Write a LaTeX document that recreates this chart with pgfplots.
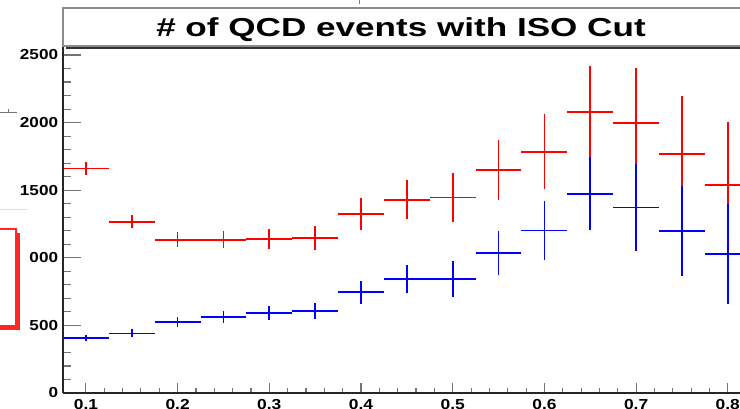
\documentclass[border=0pt]{standalone}
\usepackage{pgfplots}
\usepackage{pgfplotstable}
\pgfplotsset{compat=1.18}
\usepackage{fontspec}
\setmainfont{Liberation Sans}

% bin centre, half bin width, content, statistical error
\pgfplotstableread{
x    ex     y     e
0.10 0.025 1660  45
0.15 0.025 1265  48
0.20 0.025 1134  54
0.25 0.025 1134  64
0.30 0.025 1141  75
0.35 0.025 1146  90
0.40 0.025 1324 120
0.45 0.025 1430 142
0.50 0.025 1447 181
0.55 0.025 1649 222
0.60 0.025 1785 279
0.65 0.025 2078 340
0.70 0.025 1995 412
0.75 0.025 1770 427
0.80 0.025 1538 468
}\noisotable

\pgfplotstableread{
x    ex     y     e
0.10 0.025  407  22
0.15 0.025  441  30
0.20 0.025  523  37
0.25 0.025  562  43
0.30 0.025  594  53
0.35 0.025  606  60
0.40 0.025  745  86
0.45 0.025  843 105
0.50 0.025  843 131
0.55 0.025 1035 163
0.60 0.025 1203 216
0.65 0.025 1474 271
0.70 0.025 1371 322
0.75 0.025 1200 333
0.80 0.025 1028 369
}\isotable

\definecolor{rootred}{RGB}{255,0,0}
\definecolor{rootblue}{RGB}{0,0,255}

\pgfplotsset{
  histframe/.style={
    scale only axis,
    width=733.6pt, height=346.1pt,
    at={(63pt,16pt)}, anchor=south west,
    xmin=0.075, xmax=0.875, ymin=0, ymax=2560,
    axis line style={black!85, line width=1.4pt},
    tick style={black!55, line width=1.1pt},
    tick align=inside,
    /pgf/number format/assume math mode=true,
  },
  histerr/.style={
    color=#1, draw=#1, only marks,
    mark=*, mark size=0pt, mark options={draw=none, fill=none},
    error bars/.cd,
      x dir=both, x explicit, y dir=both, y explicit,
      error mark=none,
      error bar style={draw=#1, color=#1, line width=1.7pt},
  },
}

\begin{document}
\begin{tikzpicture}
% y ticks and the data
\begin{axis}[histframe,
  axis x line*=bottom, axis y line*=left,
  xtick=\empty,
  ytick={0,500,1000,1500,2000,2500},
  yticklabels={0,500,000,1500,2000,2500},
  minor y tick num=4,
  major tick length=18pt, minor tick length=8pt,
  ytick pos=left,
  yticklabel style={font=\fontsize{14.5}{14.5}\selectfont\bfseries, xscale=1.18, inner sep=0pt, xshift=-4pt},
]
\addplot[histerr=rootred]
  table[x=x, y=y, x error=ex, y error=e] {\noisotable};
\addplot[histerr=rootblue]
  table[x=x, y=y, x error=ex, y error=e] {\isotable};
\end{axis}

% x ticks
\begin{axis}[histframe,
  axis x line*=bottom, axis y line*=left,
  ytick=\empty,
  xtick={0.1,0.2,0.3,0.4,0.5,0.6,0.7,0.8},
  xticklabels={0.1,0.2,0.3,0.4,0.5,0.6,0.7,0.8},
  minor x tick num=4,
  major tick length=10pt, minor tick length=5pt,
  xtick pos=bottom,
  xticklabel style={font=\fontsize{14.5}{14.5}\selectfont\bfseries, xscale=1.2, inner sep=0pt, yshift=-6pt},
]
\end{axis}

% title pave
\fill[black!80] (66pt,{409pt-49.5pt}) rectangle (800pt,{409pt-45.5pt});
\draw[black!45, fill=white, line width=1.2pt] (63pt,{409pt-46pt}) rectangle (800pt,{409pt-8pt});
\node[anchor=base, font=\fontsize{26}{26}\selectfont\bfseries, xscale=1.35, inner sep=0pt]
  at (401pt,{409pt-36.7pt}) {\# of QCD events with ISO Cut};

% neighbouring pad pieces at the left border
\draw[black!55, line width=1pt] (0pt,{409pt-113pt}) -- (17pt,{409pt-113pt});
\draw[black!55, line width=1pt] (8pt,{409pt-113pt}) -- (8pt,{409pt-109pt});
\draw[black!12, line width=1pt] (0pt,{409pt-210pt}) -- (28pt,{409pt-210pt});
\fill[rootred!85] (16pt,{409pt-330pt}) rectangle (20pt,{409pt-233pt});
\fill[rootred!85] (0pt,{409pt-330pt}) rectangle (20pt,{409pt-326pt});
\draw[rootred!85, line width=1.2pt] (-5pt,{409pt-326pt}) rectangle (16pt,{409pt-229pt});
\draw[black!50, line width=1pt] (359pt,409pt) -- (359pt,{409pt-4pt});

\pgfresetboundingbox
\useasboundingbox (0,0) rectangle (740pt,409pt);
\end{tikzpicture}
\end{document}
